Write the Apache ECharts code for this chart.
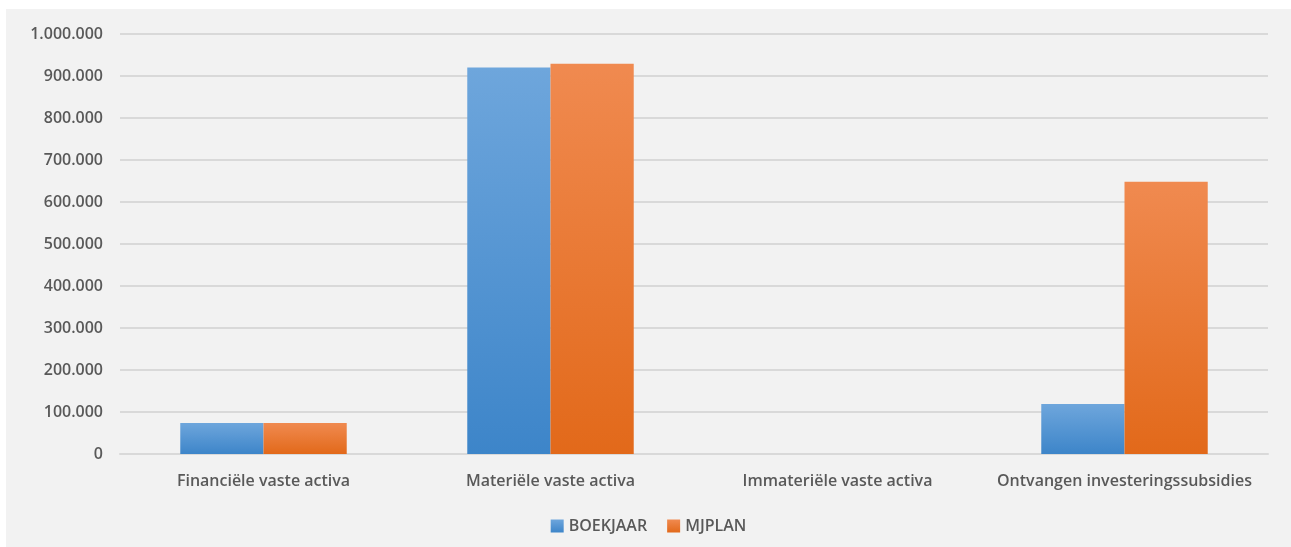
<!DOCTYPE html>
<html>
<head>
    <meta charset="utf-8">
    <title>Investeringen</title>
    <script src="https://cdn.jsdelivr.net/npm/echarts@6/dist/echarts.min.js"></script>
    <style>
        * {
            margin: 0;
            padding: 0;
        }
        body, html {
            background: #ffffff;
        }
        #main {
            position: absolute;
            left: 6px;
            top: 9px;
            width: 1285px;
            height: 538px;
            background: #f2f2f2;
        }
    </style>
</head>
<body>
<div id="main"></div>
<script>
    var categories = ['Financiële vaste activa', 'Materiële vaste activa', 'Immateriële vaste activa', 'Ontvangen investeringssubsidies'];
    var boekjaar = [74000, 920000, 0, 119000];
    var mjplan = [74000, 929000, 0, 648000];

    function fmt(v) {
        return String(v).replace(/\B(?=(\d{3})+(?!\d))/g, '.');
    }

    function grad(top, bottom) {
        return new echarts.graphic.LinearGradient(0, 0, 0, 1, [
            {offset: 0, color: top},
            {offset: 1, color: bottom}
        ]);
    }

    var chart = echarts.init(document.getElementById('main'));
    var textStyle = {color: '#595959', fontFamily: 'Open Sans', fontSize: 16, fontWeight: 600};

    var option = {
        backgroundColor: '#f2f2f2',
        grid: {
            left: 114,
            right: 23,
            top: 25,
            bottom: 93
        },
        legend: {
            bottom: 8,
            left: 'center',
            itemWidth: 13,
            itemHeight: 13,
            itemGap: 20,
            icon: 'rect',
            textStyle: {color: '#595959', fontFamily: 'Open Sans', fontSize: 16, fontWeight: 600},
            data: ['BOEKJAAR', 'MJPLAN']
        },
        xAxis: {
            type: 'category',
            data: categories,
            axisLine: {lineStyle: {color: '#d9d9d9', width: 2}},
            axisTick: {show: false},
            axisLabel: Object.assign({margin: 19, interval: 0}, textStyle)
        },
        yAxis: {
            type: 'value',
            min: 0,
            max: 1000000,
            interval: 100000,
            axisLine: {show: false},
            axisTick: {show: false},
            splitLine: {lineStyle: {color: '#d9d9d9', width: 2}},
            axisLabel: Object.assign({margin: 17, formatter: fmt}, textStyle)
        },
        series: [
            {
                name: 'BOEKJAAR',
                type: 'bar',
                data: boekjaar,
                barGap: '0%',
                barCategoryGap: '42%',
                itemStyle: {
                    color: grad('#6ea6dc', '#3d85c9'),
                    shadowColor: 'rgba(0,0,0,0.2)',
                    shadowBlur: 3
                }
            },
            {
                name: 'MJPLAN',
                type: 'bar',
                data: mjplan,
                itemStyle: {
                    color: grad('#f08a50', '#e2691a'),
                    shadowColor: 'rgba(0,0,0,0.2)',
                    shadowBlur: 3
                }
            }
        ]
    };
    chart.setOption(option);
</script>
</body>
</html>
